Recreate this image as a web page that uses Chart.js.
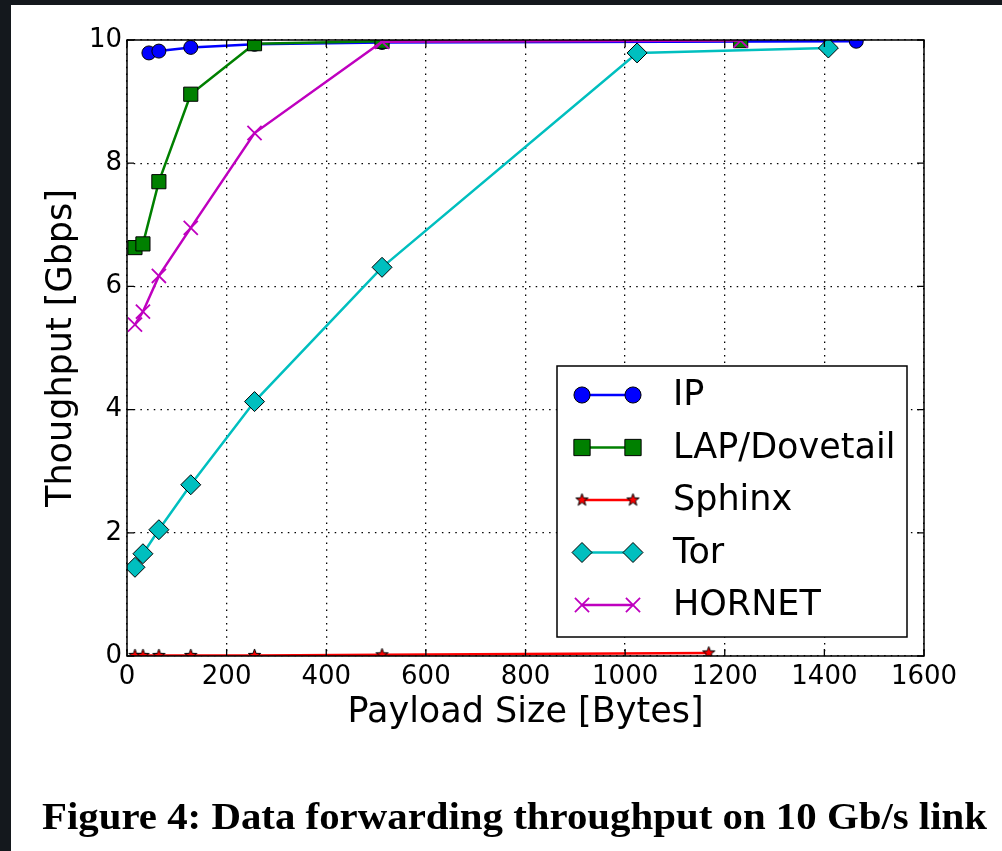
<!DOCTYPE html>
<html>
<head>
<meta charset="utf-8">
<script src="https://cdn.jsdelivr.net/npm/chart.js@4/dist/chart.umd.min.js"></script>
<style>
  body { margin: 0; background: #14181d; }
  #panel { position: absolute; left: 11px; top: 5px; width: 991px; height: 846px; background: #fff; }
  #wrap { position: absolute; left: 0; top: 0; width: 1002px; height: 851px; }
  #caption { position: absolute; left: 42px; top: 794px; line-height: 38px; white-space: nowrap;
             font: bold 38px "Liberation Serif", "Times New Roman", serif; color: #000;
             transform-origin: 0 50%; transform: scaleX(1.075); }
</style>
</head>
<body>
<div id="panel"></div>
<div id="wrap"><canvas id="chart"></canvas></div>
<div id="caption">Figure 4: Data forwarding throughput on 10 Gb/s link</div>
<script>
// payload sizes (bytes) and throughput (Gbps)
const ipX = [44, 64, 128, 256, 512, 1464];
const ipY = [9.79, 9.82, 9.88, 9.93, 9.96, 9.98];

const lapX = [16, 32, 64, 128, 256, 512, 1232];
const lapY = [6.63, 6.69, 7.70, 9.12, 9.94, 9.98, 9.99];

const sphinxX = [16, 32, 64, 128, 256, 512, 1168];
const sphinxY = [0.01, 0.01, 0.01, 0.01, 0.01, 0.02, 0.05];

const torX = [16, 32, 64, 128, 256, 512, 1024, 1408];
const torY = [1.44, 1.66, 2.05, 2.78, 4.13, 6.31, 9.79, 9.87];

const hornetX = [16, 32, 64, 128, 256, 512, 1232];
const hornetY = [5.38, 5.59, 6.17, 6.95, 8.49, 9.97, 9.99];

const xTicks = [0, 200, 400, 600, 800, 1000, 1200, 1400, 1600];
const yTicks = [0, 2, 4, 6, 8, 10];

const FONT = '"DejaVu Sans", sans-serif';

function pts(xs, ys) {
  return xs.map((x, i) => ({ x: x, y: ys[i] }));
}

// filled matplotlib-like star marker
function starImage(r) {
  const c = document.createElement('canvas');
  const s = Math.ceil(r * 2 + 4);
  c.width = s; c.height = s;
  const g = c.getContext('2d');
  g.beginPath();
  for (let i = 0; i < 10; i++) {
    const rr = i % 2 === 0 ? r : r * 0.4;
    const a = -Math.PI / 2 + i * Math.PI / 5;
    const px = s / 2 + rr * Math.cos(a), py = s / 2 + rr * Math.sin(a);
    if (i === 0) g.moveTo(px, py); else g.lineTo(px, py);
  }
  g.closePath();
  g.fillStyle = '#ff0000';
  g.fill();
  g.lineWidth = 1;
  g.strokeStyle = '#000';
  g.stroke();
  return c;
}
const star = starImage(6.5);

const series = [
  { label: 'IP', xs: ipX, ys: ipY, color: '#0000ff', style: 'circle', radius: 7, order: 5 },
  { label: 'LAP/Dovetail', xs: lapX, ys: lapY, color: '#008000', style: 'rect', radius: 10, order: 4 },
  { label: 'Sphinx', xs: sphinxX, ys: sphinxY, color: '#ff0000', style: star, radius: 7, order: 3 },
  { label: 'Tor', xs: torX, ys: torY, color: '#00bfbf', style: 'rectRot', radius: 10, order: 2 },
  { label: 'HORNET', xs: hornetX, ys: hornetY, color: '#bf00bf', style: 'crossRot', radius: 10, order: 1 }
];

const datasets = series.map(s => ({
  label: s.label,
  data: pts(s.xs, s.ys),
  borderColor: s.color,
  borderWidth: 2.5,
  pointStyle: s.style,
  pointRadius: s.radius,
  pointHoverRadius: s.radius,
  pointBackgroundColor: s.color,
  pointBorderColor: s.style === 'crossRot' ? s.color : '#000',
  pointBorderWidth: s.style === 'crossRot' ? 1.8 : 1,
  tension: 0,
  fill: false,
  order: s.order
}));

function drawMarker(ctx, s, x, y, k) {
  ctx.save();
  ctx.fillStyle = s.color;
  ctx.strokeStyle = '#000';
  ctx.lineWidth = 1;
  const r = s.radius * k;
  ctx.beginPath();
  if (s.style === 'circle') {
    ctx.arc(x, y, r, 0, Math.PI * 2);
    ctx.fill(); ctx.stroke();
  } else if (s.style === 'rect') {
    const h = r * Math.SQRT1_2;
    ctx.rect(x - h, y - h, 2 * h, 2 * h);
    ctx.fill(); ctx.stroke();
  } else if (s.style === 'rectRot') {
    ctx.moveTo(x - r, y); ctx.lineTo(x, y - r); ctx.lineTo(x + r, y); ctx.lineTo(x, y + r);
    ctx.closePath();
    ctx.fill(); ctx.stroke();
  } else if (s.style === 'crossRot') {
    const h = r * Math.SQRT1_2;
    ctx.strokeStyle = s.color;
    ctx.lineWidth = 1.8;
    ctx.moveTo(x - h, y - h); ctx.lineTo(x + h, y + h);
    ctx.moveTo(x - h, y + h); ctx.lineTo(x + h, y - h);
    ctx.stroke();
  } else {
    ctx.drawImage(s.style, x - s.style.width / 2, y - s.style.height / 2);
  }
  ctx.restore();
}

// frame, inward ticks on all four sides, and the legend box inside the axes
const framePlugin = {
  id: 'frame',
  afterDatasetsDraw(chart) {
    const { ctx, chartArea: a, scales } = chart;
    ctx.save();
    ctx.strokeStyle = '#000';
    ctx.lineWidth = 1.5;
    ctx.strokeRect(a.left, a.top, a.right - a.left, a.bottom - a.top);
    ctx.lineWidth = 1.3;
    ctx.beginPath();
    xTicks.forEach(v => {
      const px = scales.x.getPixelForValue(v);
      ctx.moveTo(px, a.bottom); ctx.lineTo(px, a.bottom - 7);
      ctx.moveTo(px, a.top); ctx.lineTo(px, a.top + 7);
    });
    yTicks.forEach(v => {
      const py = scales.y.getPixelForValue(v);
      ctx.moveTo(a.left, py); ctx.lineTo(a.left + 7, py);
      ctx.moveTo(a.right, py); ctx.lineTo(a.right - 7, py);
    });
    ctx.stroke();
    ctx.restore();
  },
  afterDraw(chart) {
    const ctx = chart.ctx;
    const box = { x: 557, y: 366, w: 350, h: 271 };
    ctx.save();
    ctx.fillStyle = '#fff';
    ctx.fillRect(box.x, box.y, box.w, box.h);
    ctx.strokeStyle = '#000';
    ctx.lineWidth = 1.5;
    ctx.strokeRect(box.x, box.y, box.w, box.h);
    ctx.font = '35px ' + FONT;
    ctx.textBaseline = 'middle';
    ctx.textAlign = 'left';
    series.forEach((s, i) => {
      const y = 395 + i * 52.5;
      const k = (s.style === 'circle' || s.style === 'rect') ? 1.15 : 1;
      ctx.beginPath();
      ctx.strokeStyle = s.color;
      ctx.lineWidth = 2.5;
      ctx.moveTo(582, y); ctx.lineTo(633, y);
      ctx.stroke();
      drawMarker(ctx, s, 582, y, k);
      drawMarker(ctx, s, 633, y, k);
      ctx.fillStyle = '#000';
      ctx.fillText(s.label, 673, y + 1);
    });
    ctx.restore();
  }
};

new Chart(document.getElementById('chart'), {
  type: 'line',
  data: { datasets: datasets },
  plugins: [framePlugin],
  options: {
    responsive: true,
    maintainAspectRatio: false,
    animation: false,
    layout: { padding: { top: 40, right: 78, bottom: 0, left: 0 } },
    plugins: { legend: { display: false }, tooltip: { enabled: false } },
    scales: {
      x: {
        type: 'linear',
        min: 0,
        max: 1600,
        afterBuildTicks: sc => { sc.ticks = xTicks.map(v => ({ value: v })); },
        afterFit: sc => { sc.height = 195; },
        ticks: {
          color: '#000', padding: 6, maxRotation: 0, font: { family: FONT, size: 26 },
          callback: v => String(v)
        },
        grid: { color: '#000', lineWidth: 1.3, drawTicks: false },
        border: { display: false, dash: [1.5, 5.2] },
        title: {
          display: true, text: 'Payload Size [Bytes]', color: '#000',
          font: { family: FONT, size: 35 }, padding: { top: 0, bottom: 117 }
        }
      },
      y: {
        min: 0,
        max: 10,
        afterBuildTicks: sc => { sc.ticks = yTicks.map(v => ({ value: v })); },
        afterFit: sc => { sc.width = 127; },
        ticks: {
          color: '#000', padding: 5, font: { family: FONT, size: 26 },
          callback: v => String(v)
        },
        grid: { color: '#000', lineWidth: 1.3, drawTicks: false },
        border: { display: false, dash: [1.5, 5.2] },
        title: {
          display: true, text: 'Thoughput [Gbps]', color: '#000',
          font: { family: FONT, size: 35 }, padding: { top: 41, bottom: 0 }
        }
      }
    }
  }
});
</script>
</body>
</html>
